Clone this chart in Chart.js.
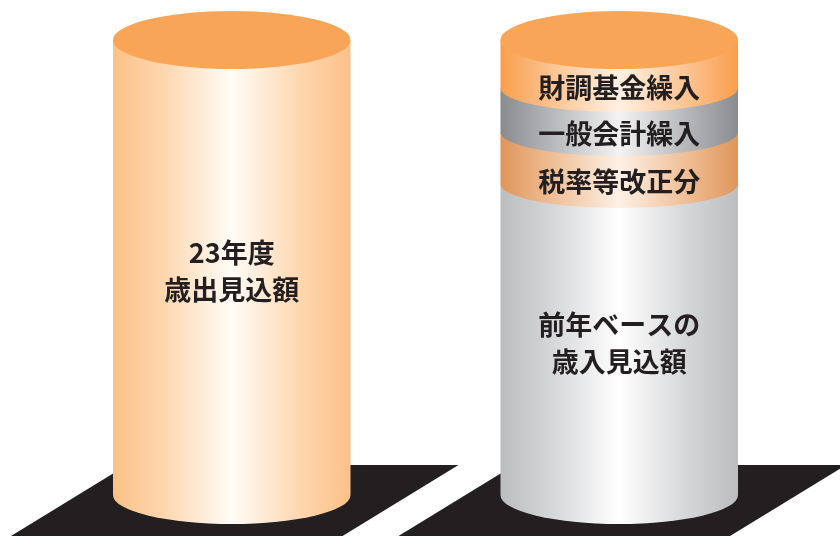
<!DOCTYPE html>
<html lang="ja">
<head>
<meta charset="utf-8">
<script src="https://cdn.jsdelivr.net/npm/chart.js@4/dist/chart.umd.min.js"></script>
<style>
  html, body { margin: 0; padding: 0; background: #fff; }
  #wrap { width: 840px; height: 536px; }
</style>
</head>
<body>
<div id="wrap"><canvas id="myChart" width="840" height="536"></canvas></div>
<script>
// 左: 23年度歳出見込額 / 右: 歳入見込額の内訳
const categories = ['23年度歳出見込額', '歳入見込額'];
const baseValues = [455, 311];        // 歳出見込額 / 前年ベースの歳入見込額
const taxReform = [null, 52];         // 税率等改正分
const generalTransfer = [null, 44];   // 一般会計繰入
const fundTransfer = [null, 48];      // 財調基金繰入

const baseLabels = [['23年度', '歳出見込額'], ['前年ベースの', '歳入見込額']];
const taxLabel = '税率等改正分';
const generalLabel = '一般会計繰入';
const fundLabel = '財調基金繰入';

// gradient stops: edge, near-edge, center
const orangeBody = ['#fcc188', '#fdd5ac', '#fffcf7'];
const grayBody = ['#bcbdbf', '#d3d4d6', '#ffffff'];
const darkGray = ['#898b8e', '#b3b4b7', '#f3f3f3'];
const orangeBand = ['#f99e4c', '#fbc18d', '#fff0e2'];
const mutedOrange = ['#de955a', '#eebb90', '#fdf0e6'];
const topColor = '#f9a557';
const textColor = '#231f20';

function bodyGradient(ctx, left, right, cols) {
  const g = ctx.createLinearGradient(left, 0, right, 0);
  g.addColorStop(0, cols[0]);
  g.addColorStop(0.2, cols[1]);
  g.addColorStop(0.5, cols[2]);
  g.addColorStop(0.8, cols[1]);
  g.addColorStop(1, cols[0]);
  return g;
}

const cylinderPlugin = {
  id: 'cylinderPlugin',
  beforeDatasetsDraw(chart) {
    const { ctx } = chart;
    const meta = chart.getDatasetMeta(0);
    ctx.save();
    ctx.fillStyle = '#231f20';
    meta.data.forEach((bar) => {
      const p = bar.getProps(['x', 'base', 'width'], true);
      const left = p.x - p.width / 2, right = p.x + p.width / 2;
      const top = p.base - 30, bottom = p.base + 45;
      const slant = 116 * (bottom - top) / 71;
      ctx.beginPath();
      ctx.moveTo(left + 14, top);
      ctx.lineTo(right + 108, top);
      ctx.lineTo(right + 108 - slant, bottom);
      ctx.lineTo(left + 14 - slant, bottom);
      ctx.closePath();
      ctx.fill();
    });
    ctx.restore();
  },
  afterDatasetsDraw(chart) {
    const { ctx } = chart;
    const n = chart.data.labels.length;
    for (let i = 0; i < n; i++) {
      let topY = null, left, right, cx;
      const labels = [];
      chart.data.datasets.forEach((ds, d) => {
        const v = ds.data[i];
        if (v === null || v === undefined) return;
        const bar = chart.getDatasetMeta(d).data[i];
        const p = bar.getProps(['x', 'y', 'base', 'width'], true);
        cx = p.x;
        left = p.x - p.width / 2;
        right = p.x + p.width / 2;
        const rx = p.width / 2;
        const ry = d === 0 ? 29 : 24;
        ctx.save();
        ctx.beginPath();
        ctx.moveTo(left, p.y);
        ctx.lineTo(left, p.base);
        ctx.ellipse(cx, p.base, rx, ry, 0, Math.PI, 0, true);
        ctx.lineTo(right, p.y);
        ctx.closePath();
        ctx.fillStyle = bodyGradient(ctx, left, right, ds.cyl[i]);
        ctx.fill();
        ctx.restore();
        topY = p.y;
        const h = p.base - p.y;
        const lines = Array.isArray(ds.segLabels[i]) ? ds.segLabels[i] : [ds.segLabels[i]];
        labels.push({ x: cx, y: (p.y + p.base) / 2 + (h < 100 ? 24 : 4), lines });
      });
      if (topY === null) continue;
      ctx.save();
      ctx.beginPath();
      ctx.ellipse(cx, topY, (right - left) / 2, 29, 0, 0, Math.PI * 2);
      ctx.fillStyle = topColor;
      ctx.fill();
      ctx.fillStyle = textColor;
      ctx.font = 'bold 27px "Noto Sans CJK JP"';
      ctx.textAlign = 'center';
      ctx.textBaseline = 'middle';
      labels.forEach((l) => {
        const lh = 37;
        l.lines.forEach((t, k) => {
          ctx.fillText(t, l.x, l.y + (k - (l.lines.length - 1) / 2) * lh);
        });
      });
      ctx.restore();
    }
  }
};

new Chart(document.getElementById('myChart'), {
  type: 'bar',
  data: {
    labels: categories,
    datasets: [
      { data: baseValues, segLabels: baseLabels, cyl: [orangeBody, grayBody] },
      { data: taxReform, segLabels: [null, taxLabel], cyl: [null, mutedOrange] },
      { data: generalTransfer, segLabels: [null, generalLabel], cyl: [null, darkGray] },
      { data: fundTransfer, segLabels: [null, fundLabel], cyl: [null, orangeBand] }
    ].map((ds) => Object.assign(ds, {
      backgroundColor: 'rgba(0,0,0,0)',
      borderWidth: 0,
      categoryPercentage: 1,
      barPercentage: 0.613
    }))
  },
  options: {
    responsive: false,
    animation: false,
    events: [],
    layout: {
      padding: { top: 0, bottom: 41, left: 38, right: 27 }
    },
    plugins: {
      legend: { display: false },
      tooltip: { enabled: false }
    },
    scales: {
      x: { stacked: true, display: false },
      y: { stacked: true, display: false, min: 0, max: 495 }
    }
  },
  plugins: [cylinderPlugin]
});
</script>
</body>
</html>
